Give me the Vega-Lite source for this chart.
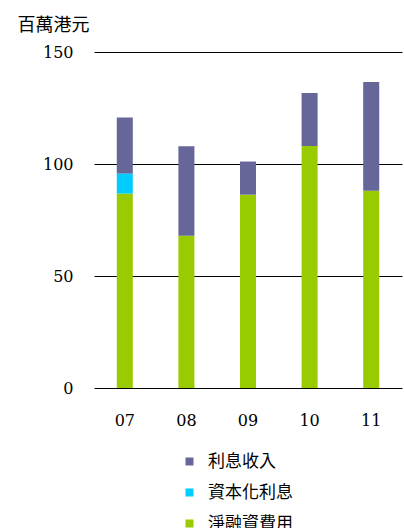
{
  "$schema": "https://vega.github.io/schema/vega-lite/v6.json",
  "autosize": "none",
  "width": 308,
  "height": 336,
  "padding": {"left": 94, "top": 52, "right": 2, "bottom": 140},
  "background": "white",
  "config": {
    "view": {"stroke": null},
    "font": "DejaVu Serif"
  },
  "data": {
    "values": [
      {"year": "07", "type": "淨融資費用", "order": 1, "value": 86.8},
      {"year": "07", "type": "資本化利息", "order": 2, "value": 9.0},
      {"year": "07", "type": "利息收入", "order": 3, "value": 25.0},
      {"year": "08", "type": "淨融資費用", "order": 1, "value": 68.0},
      {"year": "08", "type": "資本化利息", "order": 2, "value": 0},
      {"year": "08", "type": "利息收入", "order": 3, "value": 39.9},
      {"year": "09", "type": "淨融資費用", "order": 1, "value": 86.3},
      {"year": "09", "type": "資本化利息", "order": 2, "value": 0},
      {"year": "09", "type": "利息收入", "order": 3, "value": 14.8},
      {"year": "10", "type": "淨融資費用", "order": 1, "value": 108.0},
      {"year": "10", "type": "資本化利息", "order": 2, "value": 0},
      {"year": "10", "type": "利息收入", "order": 3, "value": 23.7},
      {"year": "11", "type": "淨融資費用", "order": 1, "value": 88.1},
      {"year": "11", "type": "資本化利息", "order": 2, "value": 0},
      {"year": "11", "type": "利息收入", "order": 3, "value": 48.5}
    ]
  },
  "mark": {"type": "bar"},
  "encoding": {
    "x": {
      "field": "year",
      "type": "ordinal",
      "scale": {"paddingInner": 0.74, "paddingOuter": 0.37},
      "axis": {
        "title": null,
        "domain": false,
        "ticks": false,
        "labelAngle": 0,
        "labelFont": "DejaVu Serif",
        "labelFontSize": 16,
        "labelColor": "#000000",
        "labelPadding": 24
      }
    },
    "y": {
      "field": "value",
      "type": "quantitative",
      "stack": "zero",
      "scale": {"domain": [0, 150]},
      "axis": {
        "values": [0, 50, 100, 150],
        "domain": false,
        "ticks": false,
        "grid": true,
        "gridColor": "#000000",
        "gridOpacity": 1,
        "gridWidth": 1,
        "labelFont": "DejaVu Serif",
        "labelFontSize": 16,
        "labelColor": "#000000",
        "labelPadding": 21,
        "title": "百萬港元",
        "titleFont": "Noto Sans CJK TC",
        "titleFontSize": 18,
        "titleFontWeight": "normal",
        "titleColor": "#000000",
        "titleAngle": 0,
        "titleAlign": "left",
        "titleBaseline": "alphabetic",
        "titleX": -77,
        "titleY": -22
      }
    },
    "color": {
      "field": "type",
      "type": "nominal",
      "scale": {
        "domain": ["利息收入", "資本化利息", "淨融資費用"],
        "range": ["#666699", "#00CCFF", "#99CC00"]
      },
      "legend": {
        "title": null,
        "orient": "none",
        "legendX": 87,
        "legendY": 401,
        "direction": "vertical",
        "symbolType": "square",
        "symbolSize": 64,
        "symbolStrokeWidth": 0,
        "labelFont": "Noto Sans CJK TC",
        "labelFontSize": 17,
        "labelColor": "#000000",
        "labelOffset": 10,
        "rowPadding": 13,
        "padding": 0
      }
    },
    "order": {"field": "order", "type": "quantitative"}
  }
}
